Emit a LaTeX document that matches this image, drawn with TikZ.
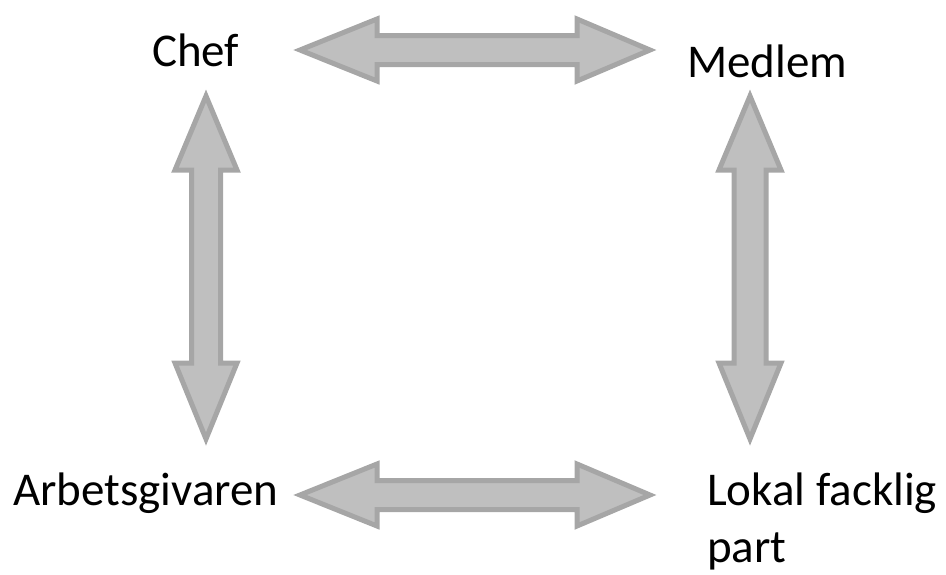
\documentclass[tikz,border=0pt]{standalone}
\usepackage{fontspec}
\setmainfont{Carlito}
\definecolor{arrfill}{HTML}{BFBFBF}
\definecolor{arrline}{HTML}{A6A6A6}
\tikzset{
  blockarrow/.style={fill=arrfill, draw=arrline, line width=5pt, line join=miter},
  lbl/.style={anchor=base west, inner sep=0pt, font=\fontsize{47pt}{57pt}\selectfont}
}
\begin{document}
\begin{tikzpicture}[x=1pt,y=-1pt]
\useasboundingbox (0,0) rectangle (946,574);
% labels
\node[lbl] (chef) at (152,66) {Chef};
\node[lbl] (medlem) at (687,77) {Medlem};
\node[lbl] (arb) at (13,505) {Arbetsgivaren};
\node[lbl] (lokal) at (707,505) {Lokal facklig};
\node[lbl] (part) at (707,562) {part};
% top horizontal arrow
\draw[blockarrow] (300,50) -- (377,19) -- (377,35.5) -- (577,35.5) -- (577,19) -- (650,50)
  -- (577,81) -- (577,64.5) -- (377,64.5) -- (377,81) -- cycle;
% bottom horizontal arrow
\draw[blockarrow] (300,495) -- (377,464) -- (377,480.5) -- (577,480.5) -- (577,464) -- (650,495)
  -- (577,526) -- (577,509.5) -- (377,509.5) -- (377,526) -- cycle;
% left vertical arrow
\draw[blockarrow] (206,96) -- (237,170) -- (220.5,170) -- (220.5,363) -- (237,363) -- (206,439)
  -- (175,363) -- (191.5,363) -- (191.5,170) -- (175,170) -- cycle;
% right vertical arrow
\draw[blockarrow] (750,96) -- (781,170) -- (766,170) -- (766,363) -- (781,363) -- (750,439)
  -- (719,363) -- (734,363) -- (734,170) -- (719,170) -- cycle;
\end{tikzpicture}
\end{document}
